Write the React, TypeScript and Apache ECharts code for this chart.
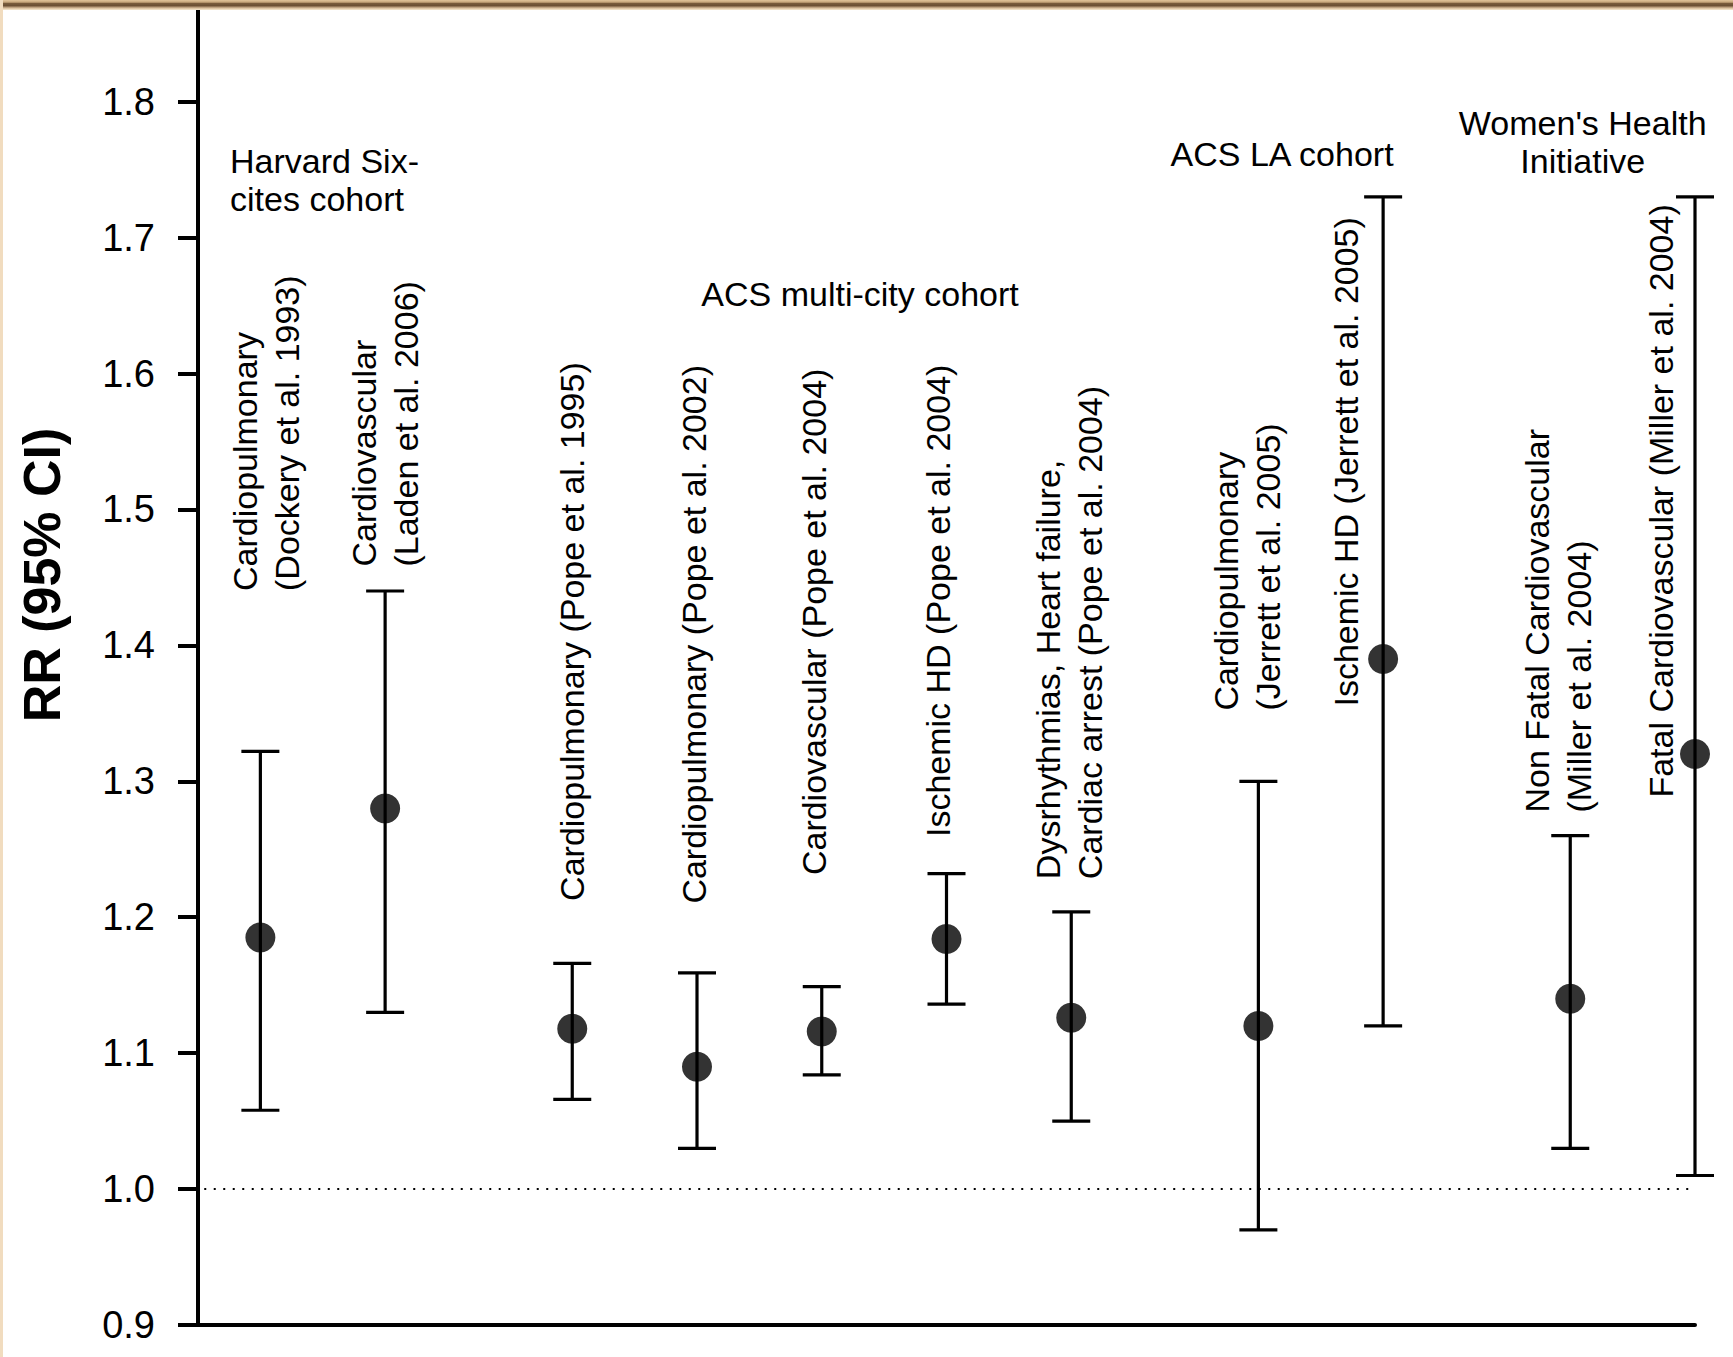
import React, { useEffect, useRef } from "react";
import * as echarts from "echarts";

// Relative risk (95% CI) of cardiovascular / cardiopulmonary outcomes per PM2.5 increment
const studies = [
  "Cardiopulmonary\n(Dockery et al. 1993)",
  "Cardiovascular\n(Laden et al. 2006)",
  "Cardiopulmonary (Pope et al. 1995)",
  "Cardiopulmonary (Pope et al. 2002)",
  "Cardiovascular (Pope et al. 2004)",
  "Ischemic HD (Pope et al. 2004)",
  "Dysrhythmias, Heart failure,\nCardiac arrest (Pope et al. 2004)",
  "Cardiopulmonary\n(Jerrett et al. 2005)",
  "Ischemic HD (Jerrett et al. 2005)",
  "Non Fatal Cardiovascular\n(Miller et al. 2004)",
  "Fatal Cardiovascular (Miller et al. 2004)",
];
const rr = [1.185, 1.28, 1.118, 1.09, 1.116, 1.184, 1.126, 1.12, 1.39, 1.14, 1.32];
const ciLow = [1.058, 1.13, 1.066, 1.03, 1.084, 1.136, 1.05, 0.97, 1.12, 1.03, 1.01];
const ciHigh = [1.322, 1.44, 1.166, 1.159, 1.149, 1.232, 1.204, 1.3, 1.73, 1.26, 1.73];

// Cohorts, in order, with the number of estimates each contributes
const cohortNames = [
  "Harvard Six-\ncites cohort",
  "ACS multi-city cohort",
  "ACS LA cohort",
  "Women's Health\nInitiative",
];
const cohortSizes = [2, 5, 2, 2];

const yTicks = [0.9, 1.0, 1.1, 1.2, 1.3, 1.4, 1.5, 1.6, 1.7, 1.8];

// Label placement: RR level where each rotated label starts, and a sideways nudge (px)
const labelStart = [1.44, 1.458, 1.212, 1.21, 1.231, 1.259, 1.228, 1.352, 1.355, 1.277, 1.288];
const labelShift = [6, 0, 0, -3, -8, -9, -2, -11, -37, -12, -34];

// Cohort heading anchors: [x slot, RR level, alignment]
const cohortTitleX = [-0.243, 4.807, 8.19, 10.6];
const cohortTitleY = [1.742, 1.6585, 1.7618, 1.77];
const cohortTitleAlign = ["left", "center", "center", "center"];

const FONT = "'Liberation Sans', Arial, Helvetica, sans-serif";

// x slot of each estimate: consecutive within a cohort, an extra half slot between cohorts
const slots: number[] = [];
cohortSizes.forEach((n, g) => {
  for (let k = 0; k < n; k++) {
    slots.push(slots.length + 0.5 * g);
  }
});

export default function App() {
  const ref = useRef<HTMLDivElement>(null);

  useEffect(() => {
    if (!ref.current) return;
    const chart = echarts.init(ref.current, undefined, { renderer: "svg" });

    const ciData = slots.map((x, i) => [x, ciLow[i], ciHigh[i]]);
    const meanData = slots.map((x, i) => [x, rr[i]]);
    const titleData = cohortNames.map((_, g) => [cohortTitleX[g], cohortTitleY[g], g]);

    const option: any = {
      animation: false,
      backgroundColor: "#ffffff",
      grid: { left: 198, right: 38, top: 6.5, bottom: 32 },
      xAxis: {
        type: "value",
        min: -0.5,
        max: 11.5,
        axisLine: { show: true, onZero: false, lineStyle: { color: "#000", width: 4 } },
        axisTick: { show: false },
        axisLabel: { show: false },
        splitLine: { show: false },
      },
      yAxis: {
        type: "value",
        min: 0.9,
        max: 1.87,
        axisLine: { show: true, onZero: false, lineStyle: { color: "#000", width: 4 } },
        axisTick: {
          show: true,
          length: 20,
          customValues: yTicks,
          lineStyle: { color: "#000", width: 4 },
        },
        axisLabel: {
          customValues: yTicks,
          formatter: (v: number) => v.toFixed(1),
          fontSize: 38,
          fontFamily: FONT,
          color: "#000",
          margin: 43,
        },
        splitLine: { show: false },
      },
      graphic: [
        {
          type: "rect",
          left: 0,
          top: 0,
          shape: { width: 1733, height: 10 },
          style: {
            fill: {
              type: "linear",
              x: 0,
              y: 0,
              x2: 0,
              y2: 1,
              colorStops: [
                { offset: 0, color: "#e2c49a" },
                { offset: 0.22, color: "#c6a57a" },
                { offset: 0.34, color: "#7a5c3c" },
                { offset: 0.58, color: "#6a4e33" },
                { offset: 0.7, color: "#b09170" },
                { offset: 0.88, color: "#e8d1b0" },
                { offset: 1, color: "#f6e8d3" },
              ],
            },
          },
          z: 100,
        },
        {
          type: "rect",
          left: 0,
          top: 0,
          shape: { width: 3, height: 1357 },
          style: { fill: "#f1dcbf" },
          z: 100,
        },
        {
          type: "text",
          x: 42,
          y: 575,
          rotation: Math.PI / 2,
          style: {
            text: "RR (95% CI)",
            fontSize: 52,
            fontWeight: "bold",
            fontFamily: FONT,
            fill: "#000",
            align: "center",
            verticalAlign: "middle",
          },
        },
      ],
      series: [
        {
          type: "custom",
          name: "95% CI",
          data: ciData,
          z: 2,
          silent: true,
          renderItem: (params: any, api: any) => {
            const i = params.dataIndex;
            const x = api.value(0);
            const pLo = api.coord([x, api.value(1)]);
            const pHi = api.coord([x, api.value(2)]);
            const pLab = api.coord([x, labelStart[i]]);
            const half = 19;
            const st = { stroke: "#000", lineWidth: 3.2 };
            return {
              type: "group",
              children: [
                { type: "line", shape: { x1: pLo[0], y1: pLo[1], x2: pHi[0], y2: pHi[1] }, style: st },
                { type: "line", shape: { x1: pLo[0] - half, y1: pLo[1], x2: pLo[0] + half, y2: pLo[1] }, style: st },
                { type: "line", shape: { x1: pHi[0] - half, y1: pHi[1], x2: pHi[0] + half, y2: pHi[1] }, style: st },
                {
                  type: "text",
                  x: pLab[0] + labelShift[i],
                  y: pLab[1],
                  rotation: Math.PI / 2,
                  style: {
                    text: studies[i],
                    fontSize: 34,
                    fontFamily: FONT,
                    lineHeight: 42,
                    fill: "#000",
                    align: "left",
                    verticalAlign: "middle",
                  },
                },
              ],
            };
          },
        },
        {
          type: "custom",
          name: "Cohorts",
          data: titleData,
          silent: true,
          renderItem: (params: any, api: any) => {
            const g = params.dataIndex;
            const p = api.coord([api.value(0), api.value(1)]);
            return {
              type: "text",
              x: p[0],
              y: p[1],
              style: {
                text: cohortNames[g],
                fontSize: 34,
                fontFamily: FONT,
                lineHeight: 38,
                fill: "#000",
                align: cohortTitleAlign[g],
                verticalAlign: "middle",
              },
            };
          },
        },
        {
          type: "scatter",
          name: "RR",
          data: meanData,
          symbol: "circle",
          symbolSize: 30,
          itemStyle: { color: "#000" },
          z: 3,
          silent: true,
          markLine: {
            silent: true,
            symbol: ["none", "none"],
            label: { show: false },
            lineStyle: { color: "#000", width: 2, type: [2, 7.5] },
            emphasis: { disabled: true },
            data: [[{ coord: [-0.45, 1.0] }, { coord: [11.45, 1.0] }]],
          },
        },
      ],
    };

    chart.setOption(option);
    return () => chart.dispose();
  }, []);

  return (
    <div
      ref={ref}
      style={{ position: "absolute", left: 0, top: 0, width: 1733, height: 1357, background: "#fff" }}
    />
  );
}
